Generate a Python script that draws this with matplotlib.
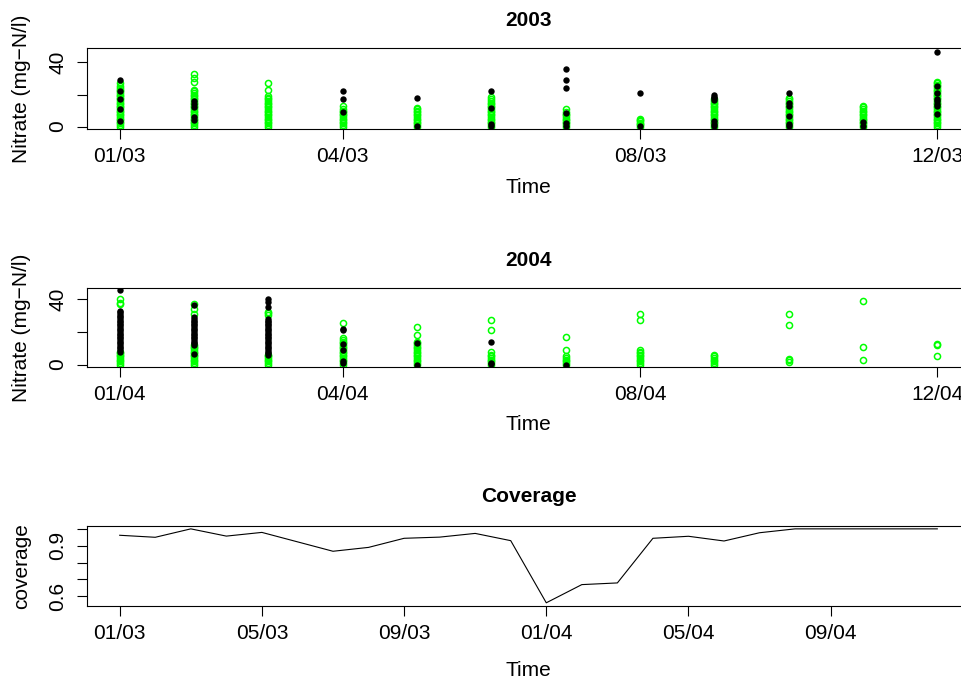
import matplotlib
matplotlib.use('Agg')
import matplotlib.pyplot as plt

plt.rcParams['font.family'] = ['Liberation Sans', 'DejaVu Sans']

# month index for the two nitrate panels
months = [1, 2, 3, 4, 5, 6, 7, 8, 9, 10, 11, 12]
nitrate_ticks = [1, 4, 8, 12]
labels_2003 = ['01/03', '04/03', '08/03', '12/03']
labels_2004 = ['01/04', '04/04', '08/04', '12/04']

# green open circles, one list per month (2003)
green_2003 = [
    [0, 1, 2, 3, 4, 5, 6, 7, 8, 9, 10, 11, 12, 13, 14, 15, 16, 17, 18, 19, 20, 21, 22, 23, 24, 25.5, 27],
    [0, 1, 2, 3, 4, 5, 6, 7, 8, 9, 10, 11, 12, 13, 14, 15, 16, 17, 18, 19, 20, 21, 22, 23.1, 27.7, 30.4, 32.5],
    [0, 1, 2, 3, 4, 5, 6, 7, 8, 9, 10, 11, 12, 13, 14, 15, 16, 17, 18, 19, 23, 27.2],
    [0, 1, 2, 3, 4, 5, 6, 7, 8, 9, 10, 11, 12.8],
    [0, 1, 2, 3, 4, 5, 6, 7, 8, 9, 10, 11, 11.7],
    [0, 1, 2, 3, 4, 5, 6, 7, 8, 9, 10, 11, 12, 13, 14, 15, 16, 17, 18.6],
    [0, 1, 2, 3, 4, 5, 6, 7, 8, 9, 10.7],
    [0, 0.8, 1.6, 2.4, 3.2, 4, 4.8],
    [0, 1, 2, 3, 4, 5, 6, 7, 8, 9, 10, 11, 12, 13, 14, 15, 16, 17],
    [0, 1, 2, 3, 4, 5, 6, 7, 8, 9, 10, 11, 12, 13, 14, 15, 16, 17, 18],
    [0, 1, 2, 3, 4, 5, 6, 7, 8, 9, 10, 11, 12, 13],
    [0, 1, 2, 3, 4, 5, 6, 7, 8, 9, 10, 11, 12, 13, 14, 15, 16, 17, 18, 19, 20, 21, 22, 23, 24, 25, 26, 27, 27.9],
]

# black filled dots (2003)
black_2003 = [
    [29, 22, 16.9, 11.1, 3.3],
    [15.8, 13.8, 12, 5.8, 4.4],
    [],
    [22, 17, 9.2],
    [17.8, 0.2],
    [22, 11.9, 1.7, 0.2],
    [36, 29.3, 23.9, 8.4, 2.5, 0.6],
    [20.9, 0.4],
    [19.7, 18.6, 17.6, 16.5, 3.4, 1.9, 0.6],
    [21.2, 14.9, 12.8, 6.5, 1.9, 0.2],
    [2.7, 0.6],
    [46.7, 25.2, 21, 17.5, 15.8, 14, 12.7, 8.1],
]

green_2004 = [
    [0, 1, 2, 3, 4, 5, 6, 7, 8, 37, 38, 40.4],
    [0, 1, 2, 3, 4, 5, 6, 7, 8, 9, 10, 11, 12, 31.3, 34.4, 37.4],
    [0, 1, 2, 3, 4, 5, 6, 30.3, 31.5, 32.5],
    [0, 1, 2, 3, 4, 5, 6, 7, 8, 9, 10, 11, 12, 13, 14, 15, 16.2, 25.3],
    [0, 1, 2, 3, 4, 5, 6, 7, 8, 9, 10, 11, 12, 13, 14.1, 18.2, 23],
    [0, 1, 2, 3, 4, 5, 6, 7.7, 21.2, 27.3],
    [0, 1, 2, 3, 4, 5, 9.1, 17.2],
    [0, 1, 2, 3, 4, 5, 6, 7, 8, 8.7, 27.1, 31.3],
    [0, 1, 2, 3, 4, 5, 6],
    [1.4, 2.5, 3.4, 24, 31.3],
    [3, 10.9, 39.2],
    [5.3, 11.9, 12.7],
]

black_2004 = [
    [45.9, 8, 9, 10, 11, 12, 13, 14, 15, 16, 17, 18, 19, 20, 21, 22, 23, 24, 25, 26, 27, 28, 29, 30, 31, 32, 33],
    [36.4, 12, 13, 14, 15, 16, 17, 18, 19, 20, 21, 22, 23, 24, 25, 26, 27, 28, 29, 6.5],
    [40.4, 38.4, 35.3, 6, 7, 8, 9, 10, 11, 12, 13, 14, 15, 16, 17, 18, 19, 20, 21, 22, 23, 24, 25, 26, 27, 28],
    [22, 21.2, 12.7, 9.1, 2, 1],
    [13.1, 0],
    [14.1, 1, 0.3],
    [0],
    [], [], [], [], [],
]

# monthly coverage, 01/03 .. 12/04
coverage = [0.962, 0.950, 1.0, 0.957, 0.979, 0.923, 0.867, 0.890, 0.944, 0.951, 0.973, 0.930,
            0.561, 0.669, 0.679, 0.944, 0.956, 0.928, 0.977, 1.0, 1.0, 1.0, 1.0, 1.0]
coverage_ticks = [0, 4, 8, 12, 16, 20]
coverage_labels = ['01/03', '05/03', '09/03', '01/04', '05/04', '09/04']

FS = 15


def style_axes(ax):
    ax.spines['right'].set_visible(False)
    for s in ['top', 'left', 'bottom']:
        ax.spines[s].set_linewidth(0.8)
    ax.tick_params(axis='x', length=7, width=0.8, pad=6, labelsize=FS)
    ax.tick_params(axis='y', length=7, width=0.8, pad=7, labelsize=FS, labelrotation=90)
    for lab in ax.get_yticklabels():
        lab.set_va('center')


def nitrate_panel(ax, green, black, year, ticklabels, xlab_y, ylim):
    for m, vals in zip(months, green):
        ax.plot([m] * len(vals), vals, 'o', ms=4.4, mfc='none', mec='#00ff00', mew=1.1)
    for m, vals in zip(months, black):
        ax.plot([m] * len(vals), vals, 'o', ms=4.6, color='black', mew=0)
    ax.set_xlim(0.56, 12.44)
    ax.set_ylim(*ylim)
    ax.set_xticks(nitrate_ticks)
    ax.set_xticklabels(ticklabels)
    ax.set_yticks([0, 20, 40])
    ax.set_yticklabels(['0', '', '40'])
    ax.set_title(year, fontsize=FS, fontweight='bold', pad=16)
    ax.set_xlabel('Time', fontsize=FS)
    ax.set_ylabel('Nitrate (mg\u2212N/l)', fontsize=FS)
    ax.xaxis.set_label_coords(0.5, xlab_y)
    ax.yaxis.set_label_coords(-0.063, 0.5)
    style_axes(ax)


fig = plt.figure(figsize=(9.62, 6.8), dpi=100)
ax1 = fig.add_axes([87 / 962, 1 - 129 / 680, 883 / 962, 81 / 680])
ax2 = fig.add_axes([87 / 962, 1 - 367 / 680, 883 / 962, 79 / 680])
ax3 = fig.add_axes([87 / 962, 1 - 606 / 680, 883 / 962, 80 / 680])

nitrate_panel(ax1, green_2003, black_2003, '2003', labels_2003, -0.6, (-1.5, 49))
nitrate_panel(ax2, green_2004, black_2004, '2004', labels_2004, -0.61, (-1.5, 47))

ax3.plot(range(len(coverage)), coverage, color='black', lw=0.8)
ax3.set_xlim(-0.92, 23.92)
ax3.set_ylim(0.542, 1.017)
ax3.set_xticks(coverage_ticks)
ax3.set_xticklabels(coverage_labels)
ax3.set_yticks([0.6, 0.7, 0.8, 0.9, 1.0])
ax3.set_yticklabels(['0.6', '', '', '0.9', ''])
ax3.set_title('Coverage', fontsize=FS, fontweight='bold', pad=17)
ax3.set_xlabel('Time', fontsize=FS)
ax3.set_ylabel('coverage', fontsize=FS)
ax3.xaxis.set_label_coords(0.5, -0.69)
ax3.yaxis.set_label_coords(-0.063, 0.5)
style_axes(ax3)

fig.savefig('out.png', dpi=100)
